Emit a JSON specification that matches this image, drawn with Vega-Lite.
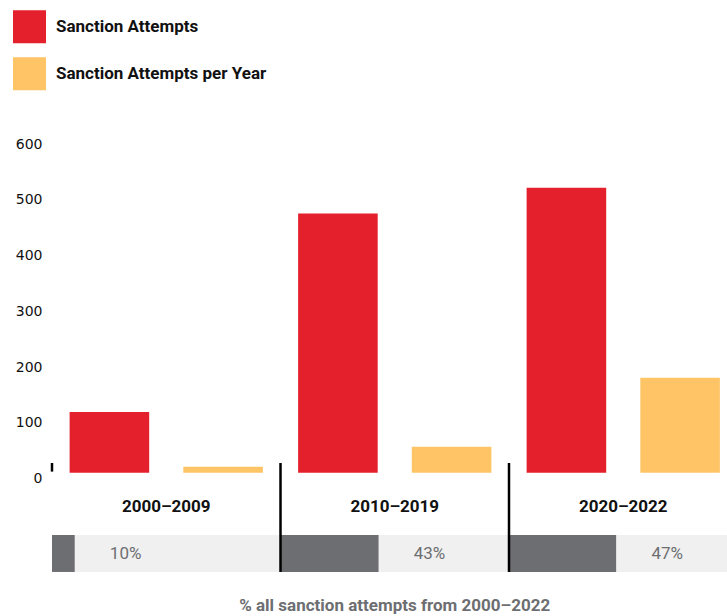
{
  "$schema": "https://vega.github.io/schema/vega-lite/v6.json",
  "width": 675,
  "height": 473.9,
  "autosize": "none",
  "padding": {"left": 52, "top": 138.2, "right": 0, "bottom": 3.9},
  "config": {"view": {"stroke": null}, "font": "Roboto"},
  "layer": [
    {
      "data": {"values": [
        {"period": "2000–2009", "part": "dark", "share": 0.10},
        {"period": "2000–2009", "part": "light", "share": 0.90},
        {"period": "2010–2019", "part": "dark", "share": 0.43},
        {"period": "2010–2019", "part": "light", "share": 0.57},
        {"period": "2020–2022", "part": "dark", "share": 0.47},
        {"period": "2020–2022", "part": "light", "share": 0.53}
      ]},
      "transform": [
        {"stack": "share", "groupby": [], "sort": [{"field": "period"}, {"field": "part"}], "as": ["s0", "s1"]}
      ],
      "layer": [
        {
          "mark": {"type": "rect"},
          "encoding": {
            "x": {"field": "s0", "type": "quantitative", "scale": {"domain": [0, 2.954], "nice": false, "zero": false}, "axis": null},
            "x2": {"field": "s1"},
            "y": {"datum": -111.7, "type": "quantitative", "scale": {"domain": [-250, 600], "nice": false},
                  "axis": {"values": [0, 100, 200, 300, 400, 500, 600], "domain": false, "ticks": false, "grid": false, "labelPadding": 10, "labelFontSize": 14, "labelColor": "#111", "labelOffset": 6, "title": null, "labelFont": "DejaVu Sans"}},
            "y2": {"datum": -178},
            "color": {"field": "part", "type": "nominal", "scale": {"domain": ["dark", "light"], "range": ["#6d6e71", "#f0f0f0"]}, "legend": null}
          }
        },
        {
          "transform": [{"filter": "datum.part === 'dark'"}],
          "mark": {"type": "text", "align": "left", "baseline": "middle", "dx": 35, "fontSize": 17, "color": "#6d6e71"},
          "encoding": {
            "x": {"field": "s1", "type": "quantitative"},
            "y": {"datum": -145, "type": "quantitative",
                  "axis": {"values": [0, 100, 200, 300, 400, 500, 600], "domain": false, "ticks": false, "grid": false, "labelPadding": 10, "labelFontSize": 14, "labelColor": "#111", "labelOffset": 6, "title": null, "labelFont": "DejaVu Sans"}},
            "text": {"field": "share", "format": ".0%"}
          }
        }
      ]
    },
    {
      "data": {"values": [
        {"period": "2000–2009", "series": "Sanction Attempts", "value": 109},
        {"period": "2000–2009", "series": "Sanction Attempts per Year", "value": 10.9},
        {"period": "2010–2019", "series": "Sanction Attempts", "value": 465},
        {"period": "2010–2019", "series": "Sanction Attempts per Year", "value": 46.5},
        {"period": "2020–2022", "series": "Sanction Attempts", "value": 511},
        {"period": "2020–2022", "series": "Sanction Attempts per Year", "value": 170.3}
      ]},
      "layer": [
        {
          "mark": {"type": "bar"},
          "encoding": {
            "x": {"field": "period", "type": "nominal", "scale": {"domain": ["2000–2009", "2010–2019", "2020–2022"], "range": [0, 685.5], "paddingInner": 0, "paddingOuter": 0}, "axis": null},
            "xOffset": {"field": "series", "type": "nominal", "scale": {"paddingInner": 0.3, "paddingOuter": 0.155}},
            "y": {"field": "value", "type": "quantitative",
                  "axis": {"values": [0, 100, 200, 300, 400, 500, 600], "domain": false, "ticks": false, "grid": false, "labelPadding": 10, "labelFontSize": 14, "labelColor": "#111", "labelOffset": 6, "title": null, "labelFont": "DejaVu Sans"}},
            "color": {"field": "series", "type": "nominal",
                      "scale": {"domain": ["Sanction Attempts", "Sanction Attempts per Year"], "range": ["#e3202b", "#ffc466"]},
                      "legend": {"orient": "none", "legendX": -39, "legendY": -128, "title": null, "symbolType": "square", "symbolSize": 1089, "symbolStrokeWidth": 0, "symbolOpacity": 1, "labelFontSize": 17, "labelFontWeight": "bold", "labelColor": "#111", "labelOffset": 10, "labelLimit": 400, "rowPadding": 14, "padding": 0, "labelFont": "Roboto"}}
          }
        },
        {
          "data": {"values": [{"period": "2000–2009"}, {"period": "2010–2019"}, {"period": "2020–2022"}]},
          "mark": {"type": "text", "fontSize": 17, "fontWeight": "bold", "color": "#111", "baseline": "middle"},
          "encoding": {
            "x": {"field": "period", "type": "nominal"},
            "y": {"datum": -61.5, "type": "quantitative"},
            "text": {"field": "period"}
          }
        },
        {
          "data": {"values": [{"period": "2010–2019"}, {"period": "2020–2022"}]},
          "mark": {"type": "rule", "strokeWidth": 2.5, "color": "#000"},
          "encoding": {
            "x": {"field": "period", "type": "nominal", "bandPosition": 0},
            "y": {"datum": 17.4, "type": "quantitative"},
            "y2": {"datum": -178}
          }
        },
        {
          "data": {"values": [{"period": "2000–2009"}]},
          "mark": {"type": "rule", "strokeWidth": 2.5, "color": "#000"},
          "encoding": {
            "x": {"field": "period", "type": "nominal", "bandPosition": 0},
            "y": {"datum": 17.4, "type": "quantitative"},
            "y2": {"datum": 2}
          }
        },
        {
          "data": {"values": [{"label": "% all sanction attempts from 2000–2022"}]},
          "mark": {"type": "text", "fontSize": 17, "fontWeight": "bold", "color": "#6d6e71", "baseline": "middle"},
          "encoding": {
            "x": {"datum": "2010–2019"},
            "y": {"datum": -239, "type": "quantitative"},
            "text": {"field": "label"}
          }
        }
      ]
    }
  ],
  "resolve": {"scale": {"x": "independent", "color": "independent"}}
}
